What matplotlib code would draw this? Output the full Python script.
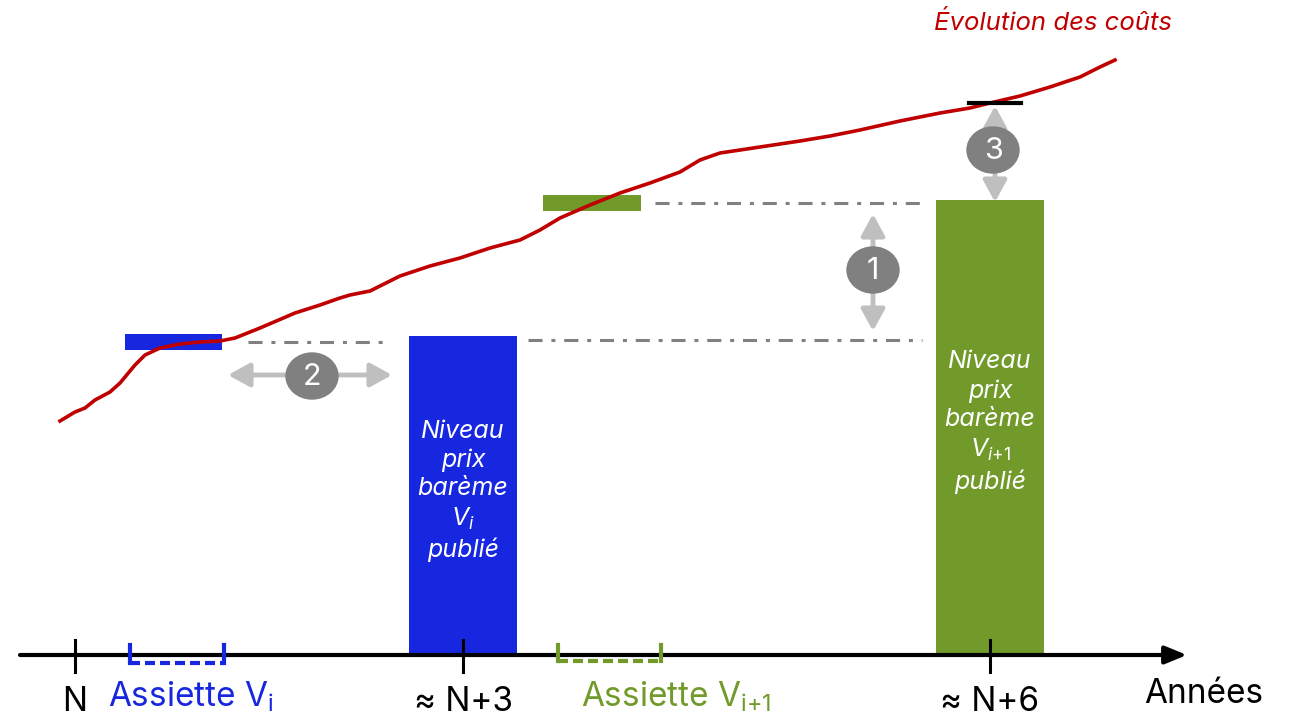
import numpy as np
import matplotlib
matplotlib.use('Agg')
import matplotlib.pyplot as plt
from matplotlib.patches import Ellipse, FancyArrowPatch

plt.rcParams['font.family'] = ['Inter', 'DejaVu Sans']
plt.rcParams['mathtext.fontset'] = 'custom'
plt.rcParams['mathtext.rm'] = 'Inter'
plt.rcParams['mathtext.it'] = 'Inter:italic'

# schematic drawn in picture units (x to the right, y downward)
cost_x = [60, 75, 85, 95, 110, 120, 125, 135, 145, 160, 180, 200, 220, 235, 260, 295,
          320, 340, 350, 370, 400, 430, 460, 490, 520, 540, 560, 590, 620, 650, 680,
          700, 720, 760, 800, 830, 860, 900, 940, 970, 990, 1020, 1050, 1080, 1100, 1115]
cost_y = [421, 412, 408, 400, 392, 383, 377, 365, 355, 348, 344, 342, 341, 338, 328, 313,
          305, 298, 295, 291, 276, 266, 258, 248, 240, 230, 218, 205, 193, 183, 172,
          160, 153, 147, 141, 136, 130, 121, 113, 108, 103, 96, 87, 77, 67, 60]

tick_x = [75, 463, 990]
tick_labels = ['N', '≈ N+3', '≈ N+6']

bar_x = [463, 990]
bar_top = [336, 200]
bar_width = 108
bar_colors = ['#1727DF', '#729A2A']
bar_texts = ['Niveau\nprix\nbarème\n$V_i$\npublié', 'Niveau\nprix\nbarème\n$V_{i{+}1}$\npublié']
bar_text_y = [491, 422]

base_y = 655
blue = '#1727DF'
green = '#729A2A'
red = '#C00000'

fig = plt.figure(figsize=(12.91, 7.21), dpi=100)
ax = fig.add_axes([0, 0, 1, 1])
ax.set_xlim(0, 1291)
ax.set_ylim(721, 0)
ax.axis('off')

# bars
for xc, top, c, t, ty in zip(bar_x, bar_top, bar_colors, bar_texts, bar_text_y):
    ax.bar(xc, base_y - 2 - top, bottom=top, width=bar_width, color=c, zorder=2)
    ax.text(xc, ty, t, color='white', style='italic', fontsize=18, ha='center',
            va='center', linespacing=1.3, zorder=3)

# cost reference markers
ax.fill_between([125, 222], 334, 350, color=blue, lw=0, zorder=3)
ax.fill_between([543, 641], 195, 211, color=green, lw=0, zorder=3)
ax.plot([969, 1021], [103, 103], color='black', lw=3, zorder=5)

# cost curve
ax.plot(cost_x, cost_y, color=red, lw=2.6, zorder=4)
ax.text(1053, 23, 'Évolution des coûts', color=red, style='italic', fontsize=18.5,
        ha='center', va='center')

# dash-dot guides
dd = dict(color='#808080', lw=2.2, dashes=(4.6, 2.9, 1.3, 2.9))
ax.plot([248, 388], [342, 342], **dd)
ax.plot([528, 922], [340, 340], **dd)
ax.plot([655, 922], [203, 203], **dd)

# numbered arrows
def num_arrow(p0, p1, center, label):
    arr = FancyArrowPatch(p0, p1, arrowstyle='<|-|>,head_width=0.55,head_length=1.0',
                          mutation_scale=13, color='#BFBFBF', lw=3.5, zorder=5,
                          shrinkA=0, shrinkB=0)
    ax.add_patch(arr)
    ax.add_patch(Ellipse(center, 52, 46, color='#808080', zorder=6))
    ax.text(center[0], center[1] + 1, label, color='white', fontsize=22, ha='center',
            va='center', zorder=7)

num_arrow((228, 375), (392, 375), (312, 376), '2')
num_arrow((873, 214), (873, 331), (873, 270), '1')
num_arrow((995, 106), (995, 202), (993, 150), '3')

# time axis
ax.annotate('', xy=(1187, base_y), xytext=(20, base_y),
            arrowprops=dict(arrowstyle='-|>,head_width=0.45,head_length=1.1',
                            mutation_scale=12, color='black', lw=3, shrinkA=0, shrinkB=0),
            zorder=6)
for tx, tl in zip(tick_x, tick_labels):
    ax.plot([tx, tx], [640, 672], color='black', lw=2.2, zorder=6)
    ax.text(tx, 702, tl, fontsize=24, ha='center', va='center')
ax.text(1204, 694, 'Années', fontsize=24, ha='center', va='center')

# assiette brackets
for x0, x1, yb, c in [(130, 224, 663, blue), (558, 661, 661, green)]:
    ax.plot([x0, x1], [yb, yb], color=c, lw=3, dashes=(2.4, 1.2), zorder=7)
    ax.plot([x0, x0], [645, yb], color=c, lw=3, zorder=7)
    ax.plot([x1, x1], [645, yb], color=c, lw=3, zorder=7)
ax.text(191, 697, 'Assiette V$_\\mathregular{i}$', color=blue, fontsize=24, ha='center', va='center')
ax.text(676, 697, 'Assiette V$_\\mathregular{i{+}1}$', color=green, fontsize=24, ha='center', va='center')

fig.savefig('out.png', dpi=100)
